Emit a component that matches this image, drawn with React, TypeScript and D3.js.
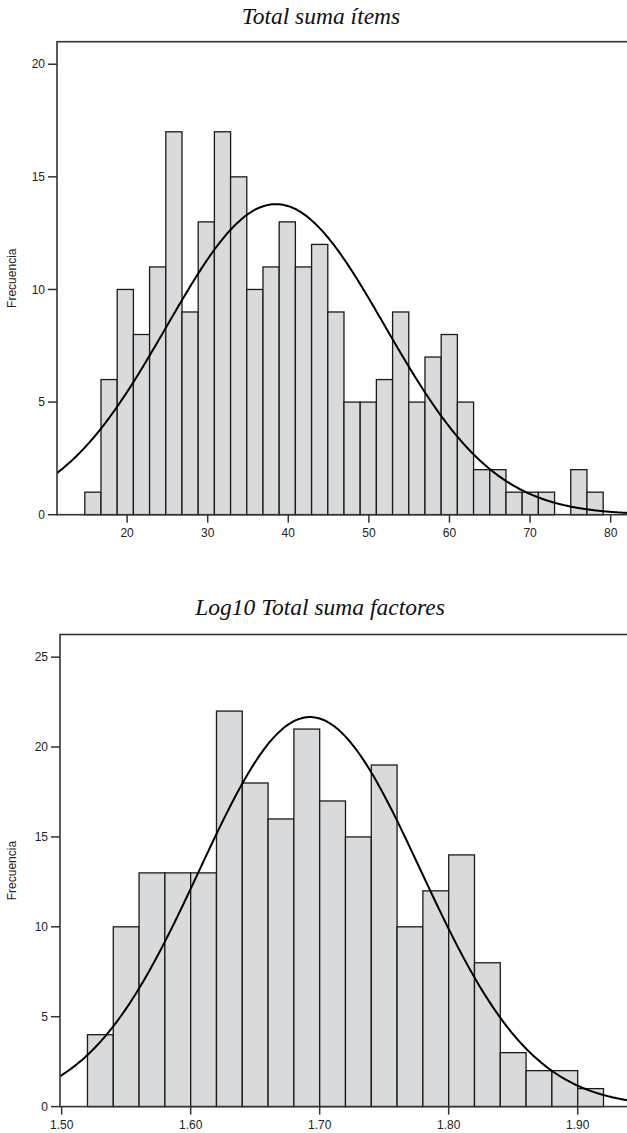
import React from "react";
import * as d3 from "d3";

// ---------- Data: Total suma ítems ----------
const itemsTitle = "Total suma ítems";
const itemsBinStart = 14.75;
const itemsBinWidth = 2.01;
const itemsCounts = [1, 6, 10, 8, 11, 17, 9, 13, 17, 15, 10, 11, 13, 11, 12, 9, 5, 5, 6, 9, 5, 7, 8, 5, 2, 2, 1, 1, 1, 0, 2, 1];
const itemsMean = 38.46;
const itemsSd = 13.55;
const itemsXTicks = [20, 30, 40, 50, 60, 70, 80];
const itemsYTicks = [0, 5, 10, 15, 20];
const itemsXDomain = [11.3, 82.4];
const itemsYMax = 21.0;

// ---------- Data: Log10 Total suma factores ----------
const factTitle = "Log10 Total suma factores";
const factBinStart = 1.52;
const factBinWidth = 0.02;
const factCounts = [4, 10, 13, 13, 13, 22, 18, 16, 21, 17, 15, 19, 10, 12, 14, 8, 3, 2, 2, 1];
const factMean = 1.6925;
const factSd = 0.0858;
const factXTicks = [1.5, 1.6, 1.7, 1.8, 1.9];
const factYTicks = [0, 5, 10, 15, 20, 25];
const factXDomain = [1.4987, 1.9421];
const factYMax = 26.26;

const yLabel = "Frecuencia";

type PanelProps = {
  id: string;
  title: string;
  titleX: number;
  titleY: number;
  left: number;
  right: number;
  top: number;
  bottom: number;
  binStart: number;
  binWidth: number;
  counts: number[];
  mean: number;
  sd: number;
  xTicks: number[];
  yTicks: number[];
  xDomain: number[];
  yMax: number;
  xFormat: (v: number) => string;
};

function Panel(p: PanelProps) {
  const x = d3.scaleLinear().domain(p.xDomain).range([p.left, p.right]);
  const y = d3.scaleLinear().domain([0, p.yMax]).range([p.bottom, p.top]);
  const n = d3.sum(p.counts);
  const dens = (v: number) =>
    (n * p.binWidth) / (p.sd * Math.sqrt(2 * Math.PI)) *
    Math.exp(-0.5 * ((v - p.mean) / p.sd) ** 2);
  const samples = d3.range(0, 401).map((i) => p.xDomain[0] + (i / 400) * (p.xDomain[1] - p.xDomain[0]));
  const line = d3
    .line<number>()
    .x((v) => x(v))
    .y((v) => y(dens(v)))
    .curve(d3.curveBasis);
  const tickLen = 9;
  return (
    <g>
      <defs>
        <clipPath id={p.id}>
          <rect x={p.left} y={p.top} width={p.right - p.left} height={p.bottom - p.top} />
        </clipPath>
      </defs>
      <text
        x={p.titleX}
        y={p.titleY}
        textAnchor="middle"
        fontFamily="'Liberation Serif', 'Times New Roman', serif"
        fontStyle="italic"
        fontSize={23.5}
        fill="#111"
      >
        {p.title}
      </text>
      {p.counts.map((c, i) =>
        c > 0 ? (
          <rect
            key={i}
            x={x(p.binStart + i * p.binWidth)}
            y={y(c)}
            width={x(p.binStart + (i + 1) * p.binWidth) - x(p.binStart + i * p.binWidth)}
            height={p.bottom - y(c)}
            fill="#d9dadc"
            stroke="#1a1a1a"
            strokeWidth={1.3}
          />
        ) : null
      )}
      <path d={line(samples) || ""} fill="none" stroke="#000" strokeWidth={2} clipPath={`url(#${p.id})`} />
      <rect
        x={p.left}
        y={p.top}
        width={p.right - p.left}
        height={p.bottom - p.top}
        fill="none"
        stroke="#333"
        strokeWidth={1.6}
      />
      {p.yTicks.map((t) => (
        <g key={"y" + t}>
          <line x1={p.left - tickLen} x2={p.left} y1={y(t)} y2={y(t)} stroke="#333" strokeWidth={1.5} />
          <text
            x={p.left - tickLen - 3}
            y={y(t)}
            dy="0.35em"
            textAnchor="end"
            fontFamily="'Liberation Sans', Arial, sans-serif"
            fontSize={12}
            fill="#222"
          >
            {t}
          </text>
        </g>
      ))}
      {p.xTicks.map((t) => (
        <g key={"x" + t}>
          <line x1={x(t)} x2={x(t)} y1={p.bottom} y2={p.bottom + 8} stroke="#333" strokeWidth={1.5} />
          <text
            x={x(t)}
            y={p.bottom + 22.5}
            textAnchor="middle"
            fontFamily="'Liberation Sans', Arial, sans-serif"
            fontSize={12}
            fill="#222"
          >
            {p.xFormat(t)}
          </text>
        </g>
      ))}
      <text
        transform={`translate(${16}, ${(p.top + p.bottom) / 2}) rotate(-90)`}
        textAnchor="middle"
        fontFamily="'Liberation Sans', Arial, sans-serif"
        fontSize={12}
        fill="#222"
      >
        {yLabel}
      </text>
    </g>
  );
}

export default function App() {
  return (
    <div style={{ position: "absolute", left: 0, top: 0, width: 627, height: 1133, background: "#fff" }}>
      <svg width={627} height={1133} style={{ display: "block" }}>
        <Panel
          id="clipA"
          title={itemsTitle}
          titleX={321}
          titleY={24}
          left={57}
          right={630}
          top={41.7}
          bottom={514.7}
          binStart={itemsBinStart}
          binWidth={itemsBinWidth}
          counts={itemsCounts}
          mean={itemsMean}
          sd={itemsSd}
          xTicks={itemsXTicks}
          yTicks={itemsYTicks}
          xDomain={itemsXDomain}
          yMax={itemsYMax}
          xFormat={(v) => String(v)}
        />
        <Panel
          id="clipB"
          title={factTitle}
          titleX={320}
          titleY={615}
          left={60}
          right={632}
          top={634.5}
          bottom={1106.6}
          binStart={factBinStart}
          binWidth={factBinWidth}
          counts={factCounts}
          mean={factMean}
          sd={factSd}
          xTicks={factXTicks}
          yTicks={factYTicks}
          xDomain={factXDomain}
          yMax={factYMax}
          xFormat={(v) => d3.format(".2f")(v)}
        />
      </svg>
    </div>
  );
}
